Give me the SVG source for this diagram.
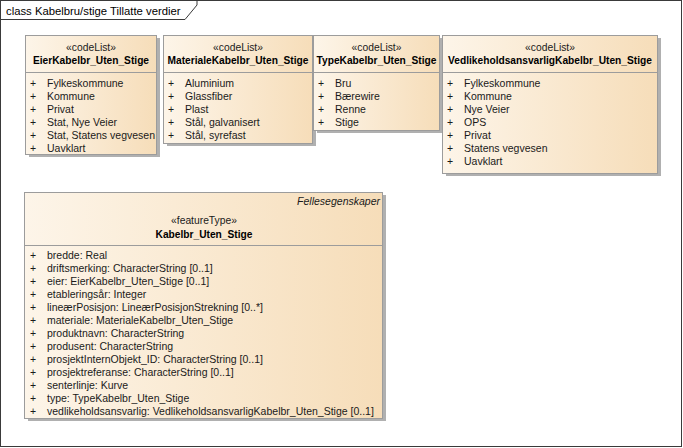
<svg xmlns="http://www.w3.org/2000/svg" width="683" height="448" viewBox="0 0 683 448">
<defs>
<linearGradient id="g" x1="0" y1="0" x2="1" y2="0">
<stop offset="0" stop-color="#FDF5E9"/>
<stop offset="1" stop-color="#F6DDB9"/>
</linearGradient>
<style>
text{font-family:"Liberation Sans",Arial,sans-serif;fill:#1a1a1a;font-size:10.5px}
.t{font-size:11.3px;fill:#000}
.n{font-weight:bold;font-size:10.2px;fill:#000;text-anchor:middle}
.s{text-anchor:middle;font-size:10.3px}
.i{font-style:italic;text-anchor:end}
.box{fill:url(#g);stroke:#9c9c9c;stroke-width:1}
.sh{fill:#b0b0b0}
.sep{stroke:#9c9c9c;stroke-width:1}
</style>
</defs>
<rect x="0" y="0" width="683" height="448" fill="#fff"/>
<rect x="0.5" y="0.5" width="681" height="446" fill="none" stroke="#3a3a3a"/>
<path d="M0.5 19.5 H185 L197 5 V0.5" fill="none" stroke="#3a3a3a"/>
<text class="t" x="6" y="14.5">class Kabelbru/stige Tillatte verdier</text>

<g id="EierKabelbr_Uten_Stige">
<rect class="sh" x="29" y="38" width="131" height="119"/>
<rect class="box" x="25.5" y="35.5" width="131" height="119"/>
<line class="sep" x1="25.5" y1="72.5" x2="156.5" y2="72.5"/>
<text class="s" x="91" y="51">«codeList»</text>
<text class="n" x="91" y="63.5">EierKabelbr_Uten_Stige</text>
<text x="30" y="87">+</text><text x="47" y="87">Fylkeskommune</text>
<text x="30" y="100">+</text><text x="47" y="100">Kommune</text>
<text x="30" y="113">+</text><text x="47" y="113">Privat</text>
<text x="30" y="126">+</text><text x="47" y="126">Stat, Nye Veier</text>
<text x="30" y="139">+</text><text x="47" y="139">Stat, Statens vegvesen</text>
<text x="30" y="152">+</text><text x="47" y="152">Uavklart</text>
</g>

<g id="MaterialeKabelbr_Uten_Stige">
<rect class="sh" x="167" y="38" width="149" height="108"/>
<rect class="box" x="163.5" y="35.5" width="149" height="108"/>
<line class="sep" x1="163.5" y1="72.5" x2="312.5" y2="72.5"/>
<text class="s" x="238" y="51">«codeList»</text>
<text class="n" x="238" y="63.5">MaterialeKabelbr_Uten_Stige</text>
<text x="168" y="87">+</text><text x="185" y="87">Aluminium</text>
<text x="168" y="100">+</text><text x="185" y="100">Glassfiber</text>
<text x="168" y="113">+</text><text x="185" y="113">Plast</text>
<text x="168" y="126">+</text><text x="185" y="126">Stål, galvanisert</text>
<text x="168" y="139">+</text><text x="185" y="139">Stål, syrefast</text>
</g>

<g id="TypeKabelbr_Uten_Stige">
<rect class="sh" x="317" y="38" width="126" height="95"/>
<rect class="box" x="313.5" y="35.5" width="126" height="95"/>
<line class="sep" x1="313.5" y1="72.5" x2="439.5" y2="72.5"/>
<text class="s" x="376.5" y="51">«codeList»</text>
<text class="n" x="376.5" y="63.5">TypeKabelbr_Uten_Stige</text>
<text x="318" y="87">+</text><text x="335" y="87">Bru</text>
<text x="318" y="100">+</text><text x="335" y="100">Bærewire</text>
<text x="318" y="113">+</text><text x="335" y="113">Renne</text>
<text x="318" y="126">+</text><text x="335" y="126">Stige</text>
</g>

<g id="VedlikeholdsansvarligKabelbr_Uten_Stige">
<rect class="sh" x="446" y="38" width="215" height="138"/>
<rect class="box" x="442.5" y="35.5" width="215" height="138"/>
<line class="sep" x1="442.5" y1="72.5" x2="657.5" y2="72.5"/>
<text class="s" x="550" y="51">«codeList»</text>
<text class="n" x="550" y="63.5">VedlikeholdsansvarligKabelbr_Uten_Stige</text>
<text x="447" y="87">+</text><text x="464" y="87">Fylkeskommune</text>
<text x="447" y="100">+</text><text x="464" y="100">Kommune</text>
<text x="447" y="113">+</text><text x="464" y="113">Nye Veier</text>
<text x="447" y="126">+</text><text x="464" y="126">OPS</text>
<text x="447" y="139">+</text><text x="464" y="139">Privat</text>
<text x="447" y="152">+</text><text x="464" y="152">Statens vegvesen</text>
<text x="447" y="165">+</text><text x="464" y="165">Uavklart</text>
</g>

<g id="Kabelbr_Uten_Stige">
<rect class="sh" x="28" y="195" width="358" height="226"/>
<rect class="box" x="24.5" y="192.5" width="358" height="226"/>
<line class="sep" x1="24.5" y1="245.5" x2="382.5" y2="245.5"/>
<text class="i" x="380" y="205">Fellesegenskaper</text>
<text class="s" x="204" y="224">«featureType»</text>
<text class="n" x="204" y="237.5">Kabelbr_Uten_Stige</text>
<text x="30" y="258.5">+</text><text x="47" y="258.5">bredde: Real</text>
<text x="30" y="271.5">+</text><text x="47" y="271.5">driftsmerking: CharacterString [0..1]</text>
<text x="30" y="284.5">+</text><text x="47" y="284.5">eier: EierKabelbr_Uten_Stige [0..1]</text>
<text x="30" y="297.5">+</text><text x="47" y="297.5">etableringsår: Integer</text>
<text x="30" y="310.5">+</text><text x="47" y="310.5">lineærPosisjon: LineærPosisjonStrekning [0..*]</text>
<text x="30" y="323.5">+</text><text x="47" y="323.5">materiale: MaterialeKabelbr_Uten_Stige</text>
<text x="30" y="336.5">+</text><text x="47" y="336.5">produktnavn: CharacterString</text>
<text x="30" y="349.5">+</text><text x="47" y="349.5">produsent: CharacterString</text>
<text x="30" y="362.5">+</text><text x="47" y="362.5">prosjektInternObjekt_ID: CharacterString [0..1]</text>
<text x="30" y="375.5">+</text><text x="47" y="375.5">prosjektreferanse: CharacterString [0..1]</text>
<text x="30" y="388.5">+</text><text x="47" y="388.5">senterlinje: Kurve</text>
<text x="30" y="401.5">+</text><text x="47" y="401.5">type: TypeKabelbr_Uten_Stige</text>
<text x="30" y="414.5">+</text><text x="47" y="414.5">vedlikeholdsansvarlig: VedlikeholdsansvarligKabelbr_Uten_Stige [0..1]</text>
</g>
<g id="connectors"/>
</svg>
